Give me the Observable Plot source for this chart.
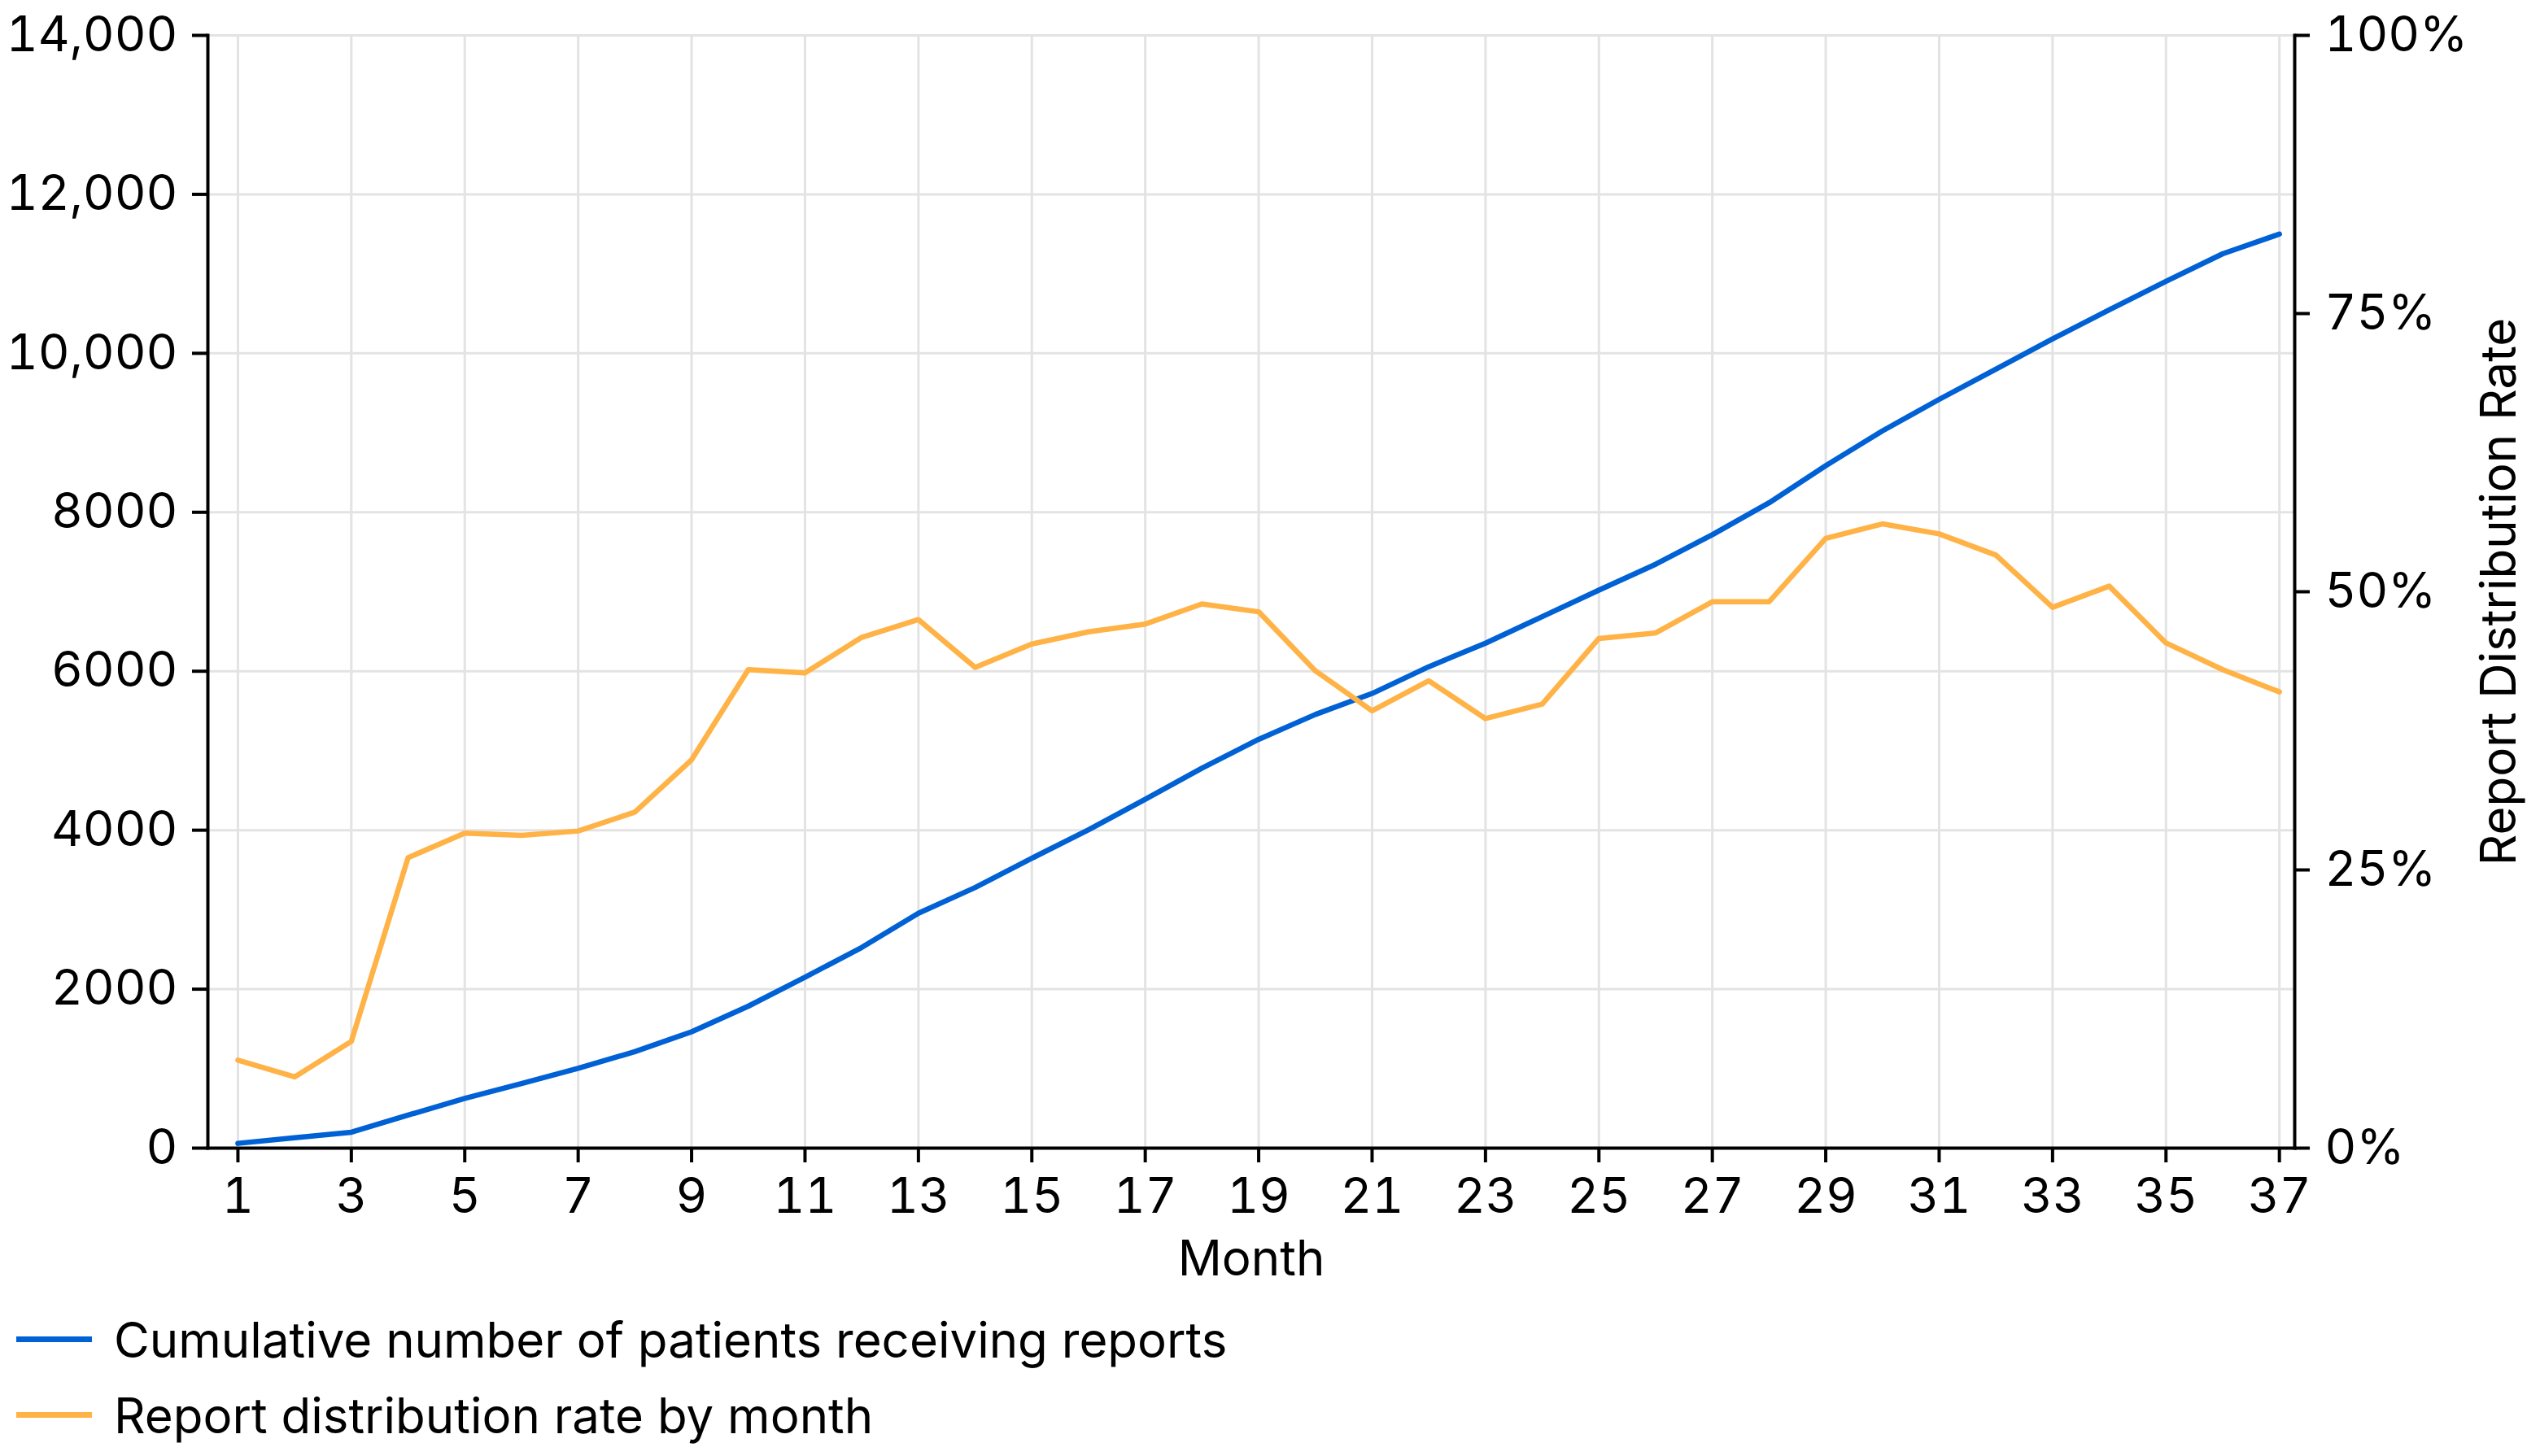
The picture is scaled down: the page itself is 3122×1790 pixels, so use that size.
<!DOCTYPE html>
<html>
<head>
<meta charset="utf-8">
<script src="https://cdn.jsdelivr.net/npm/d3@7"></script>
<script src="https://cdn.jsdelivr.net/npm/@observablehq/plot@0.6"></script>
<style>
  html, body { margin: 0; padding: 0; background: #fff; }
  body { width: 3122px; font-family: Inter, "Noto Sans", sans-serif; color: #000; }
  #legend { font-size: 60px; padding-left: 20px; }
  .row { display: flex; align-items: center; height: 93px; }
  .sw { width: 93px; height: 7px; margin-right: 27px; }
</style>
</head>
<body>
<div id="chart"></div>
<div id="legend"></div>
<script>
const months = [1,2,3,4,5,6,7,8,9,10,11,12,13,14,15,16,17,18,19,20,21,22,23,24,25,26,27,28,29,30,31,32,33,34,35,36,37];
const cumulative = [60,130,200,415,625,812,1004,1214,1464,1786,2150,2525,2955,3279,3647,4005,4388,4780,5143,5456,5720,6057,6353,6687,7021,7346,7718,8119,8586,9024,9420,9800,10181,10548,10905,11252,11500];
const ratePct = [7.9,6.4,9.6,26.1,28.3,28.1,28.5,30.2,34.9,43.0,42.7,45.9,47.5,43.2,45.3,46.4,47.1,48.9,48.2,42.9,39.3,42.0,38.6,39.9,45.8,46.3,49.1,49.1,54.8,56.1,55.2,53.3,48.6,50.5,45.4,43.0,41.0];

const xTicks = [1,3,5,7,9,11,13,15,17,19,21,23,25,27,29,31,33,35,37];
const yTicks = [0,2000,4000,6000,8000,10000,12000,14000];
const yTickLabels = ["0","2000","4000","6000","8000","10,000","12,000","14,000"];
const rateTicks = [0,25,50,75,100];
const rateTickLabels = ["0%","25%","50%","75%","100%"];

const seriesNames = ["Cumulative number of patients receiving reports", "Report distribution rate by month"];
const seriesColors = ["#0061d5", "#ffb347"];
const xLabel = "Month";
const rightLabel = "Report Distribution Rate";

const yMax = 14000;
const rateMax = 100;
const k = yMax / rateMax;

const data = months.map((m, i) => ({month: m, cumulative: cumulative[i], rate: ratePct[i]}));

const gridStyle = {stroke: "#e3e3e3", strokeOpacity: 1, strokeWidth: 3};

const chart = Plot.plot({
  width: 3122,
  height: 1600,
  marginLeft: 255,
  marginRight: 302,
  marginTop: 43,
  marginBottom: 189,
  style: {fontFamily: "Inter, 'Noto Sans', sans-serif", fontSize: "60px", color: "#000", background: "#fff"},
  x: {domain: [0.47, 37.27]},
  y: {domain: [0, yMax]},
  marks: [
    Plot.gridX(xTicks, gridStyle),
    Plot.gridY(yTicks, gridStyle),
    Plot.line(data, {x: "month", y: "cumulative", stroke: seriesColors[0], strokeWidth: 6.5}),
    Plot.line(data, {x: "month", y: d => d.rate * k, stroke: seriesColors[1], strokeWidth: 6.5}),
    Plot.frame({anchor: "left", stroke: "#000", strokeWidth: 4}),
    Plot.frame({anchor: "right", stroke: "#000", strokeWidth: 4}),
    Plot.frame({anchor: "bottom", stroke: "#000", strokeWidth: 4}),
    Plot.axisX(xTicks, {anchor: "bottom", tickSize: 18, tickPadding: 19, strokeWidth: 4, fontSize: 60, label: null, tickFormat: d => String(d)}),
    Plot.axisY(yTicks, {anchor: "left", tickSize: 19, tickPadding: 18, strokeWidth: 4, fontSize: 60, label: null,
      tickFormat: d => yTickLabels[yTicks.indexOf(d)]}),
    Plot.axisY(rateTicks.map(r => r * k), {anchor: "right", tickSize: 18, tickPadding: 19, strokeWidth: 4, fontSize: 60, label: null,
      tickFormat: d => rateTickLabels[rateTicks.indexOf(d / k)]}),
    Plot.text([xLabel], {text: d => d, frameAnchor: "bottom", textAnchor: "middle", lineAnchor: "middle", dy: 137, fontSize: 60, fill: "#000"}),
    Plot.text([rightLabel], {text: d => d, frameAnchor: "right", textAnchor: "middle", lineAnchor: "middle", dx: 252, rotate: -90, fontSize: 60, fill: "#000"})
  ]
});
document.getElementById("chart").appendChild(chart);

const legend = document.getElementById("legend");
seriesNames.forEach((name, i) => {
  const row = document.createElement("div");
  row.className = "row";
  const sw = document.createElement("div");
  sw.className = "sw";
  sw.style.background = seriesColors[i];
  const t = document.createElement("span");
  t.textContent = name;
  row.appendChild(sw);
  row.appendChild(t);
  legend.appendChild(row);
});
</script>
</body>
</html>
